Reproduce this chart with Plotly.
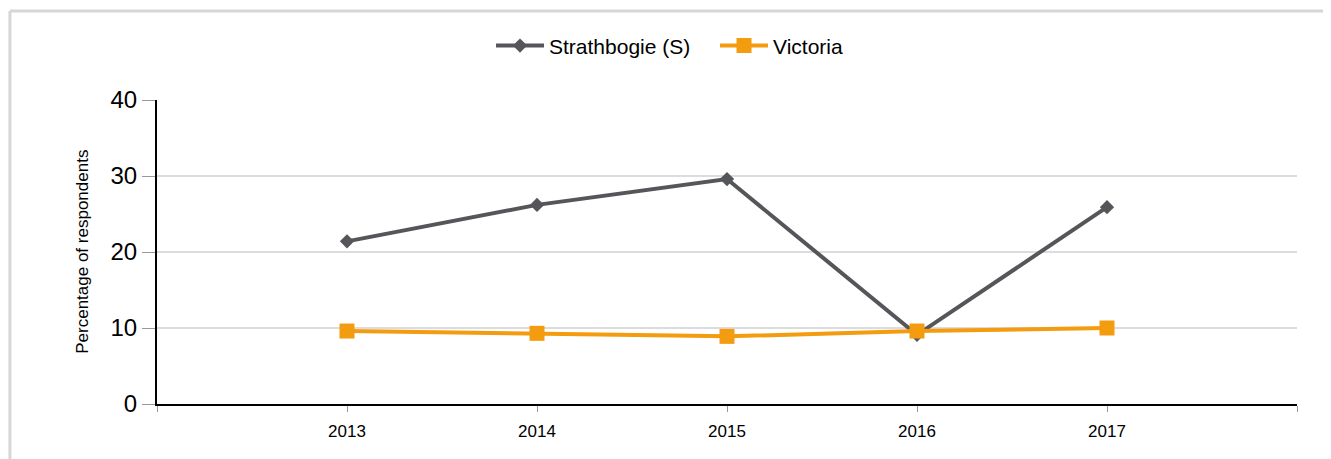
import plotly.graph_objects as go

years = [2013, 2014, 2015, 2016, 2017]
strathbogie = [21.4, 26.2, 29.6, 9.1, 25.9]
victoria = [9.6, 9.3, 8.9, 9.6, 10.0]
series_names = ["Strathbogie (S)", "Victoria"]
y_ticks = [0, 10, 20, 30, 40]
x_tickvals = [2012, 2013, 2014, 2015, 2016, 2017, 2018]
x_ticktext = ["", "2013", "2014", "2015", "2016", "2017", ""]

FONT = "Liberation Sans, Arial, sans-serif"
GREY = "#55565a"
ORANGE = "#f39c0f"

fig = go.Figure()
fig.add_trace(go.Scatter(
    x=years, y=strathbogie, name=series_names[0], mode="lines+markers",
    line=dict(color=GREY, width=4),
    marker=dict(symbol="diamond", size=11, color=GREY),
))
fig.add_trace(go.Scatter(
    x=years, y=victoria, name=series_names[1], mode="lines+markers",
    line=dict(color=ORANGE, width=4),
    marker=dict(symbol="square", size=15, color=ORANGE),
))

fig.update_layout(
    width=1331, height=459, autosize=False,
    margin=dict(l=149, r=42, t=92, b=63),
    paper_bgcolor="white", plot_bgcolor="white",
    font=dict(family=FONT, color="#000000"),
    showlegend=True,
    legend=dict(
        orientation="h", x=0.293, xanchor="left", y=1.178, yanchor="middle",
        font=dict(size=21, family=FONT, color="#000"), itemwidth=48,
        entrywidth=161, entrywidthmode="pixels",
        bgcolor="rgba(0,0,0,0)",
    ),
    xaxis=dict(
        range=[2012, 2018], tickmode="array", tickvals=x_tickvals, ticktext=x_ticktext,
        showgrid=False, zeroline=False, showline=True, linecolor="#000", linewidth=2,
        ticks="outside", ticklen=6, tickcolor="#999", tickwidth=1,
        ticklabelstandoff=5,
        tickfont=dict(size=17, family=FONT, color="#000"),
    ),
    yaxis=dict(
        range=[0, 40], tickmode="array", tickvals=y_ticks,
        showgrid=True, gridcolor="#dcdcdc", gridwidth=2, zeroline=False,
        showline=True, linecolor="#000", linewidth=2,
        ticks="outside", ticklen=13, tickcolor="#999", tickwidth=1,
        tickfont=dict(size=24, family=FONT, color="#000"),
    ),
    annotations=[dict(
        text="Percentage of respondents", textangle=-90,
        xref="paper", yref="paper", x=-0.066, y=0.5, xanchor="center", yanchor="middle",
        showarrow=False, font=dict(size=17, family=FONT, color="#000"),
    )],
    shapes=[
        dict(type="line", xref="paper", yref="paper", x0=-0.129, x1=1.04, y0=1.293, y1=1.293,
             line=dict(color="#d6d6d6", width=3)),
        dict(type="line", xref="paper", yref="paper", x0=-0.129, x1=-0.129, y0=1.293, y1=-0.3,
             line=dict(color="#d6d6d6", width=3)),
    ],
)

fig.write_html("out.html")
